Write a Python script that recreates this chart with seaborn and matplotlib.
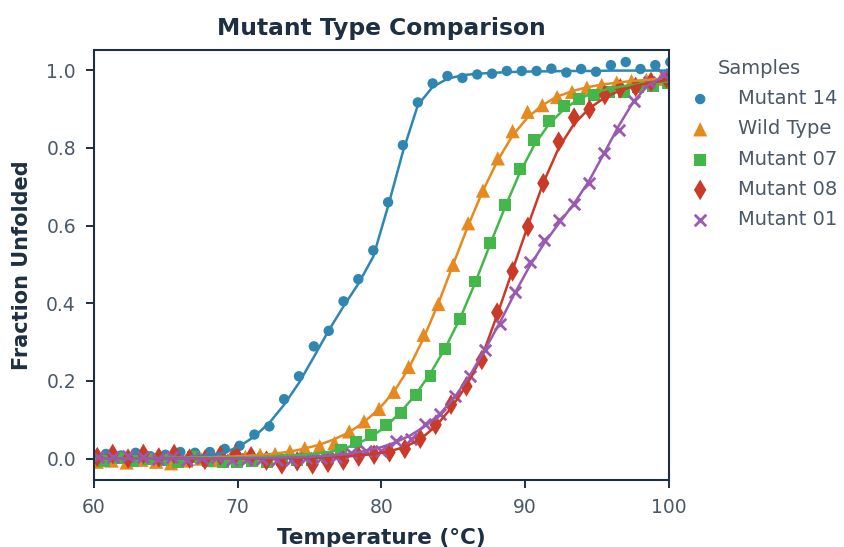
import numpy as np
import pandas as pd
import matplotlib
matplotlib.use("Agg")
import matplotlib.pyplot as plt
import seaborn as sns

# ---- data -----------------------------------------------------------------
samples = ["Mutant 14", "Wild Type", "Mutant 07", "Mutant 08", "Mutant 01"]

temps_m14 = [59.80, 60.83, 61.87, 62.90, 63.93, 64.97, 66.00, 67.03, 68.06, 69.10,
             70.13, 71.16, 72.20, 73.23, 74.26, 75.30, 76.33, 77.36, 78.39, 79.43,
             80.46, 81.49, 82.53, 83.56, 84.59, 85.63, 86.66, 87.69, 88.72, 89.76,
             90.79, 91.82, 92.86, 93.89, 94.92, 95.96, 96.99, 98.02, 99.05, 100.09]
obs_m14 = [0.005, 0.012, 0.008, 0.015, 0.006, 0.010, 0.017, 0.015, 0.017, 0.025,
           0.033, 0.062, 0.083, 0.153, 0.212, 0.289, 0.329, 0.405, 0.462, 0.536,
           0.660, 0.807, 0.917, 0.966, 0.985, 0.980, 0.989, 0.991, 0.998, 0.998,
           0.998, 1.004, 0.994, 1.003, 0.996, 1.013, 1.021, 1.003, 1.013, 1.021]
fit_m14 = [0.000, 0.000, 0.000, 0.001, 0.001, 0.002, 0.003, 0.005, 0.009, 0.016,
           0.032, 0.057, 0.092, 0.139, 0.195, 0.262, 0.330, 0.392, 0.450, 0.520,
           0.650, 0.790, 0.910, 0.957, 0.978, 0.987, 0.991, 0.993, 0.995, 0.996,
           0.997, 0.997, 0.998, 0.998, 0.998, 0.999, 0.999, 0.999, 0.999, 0.999]

temps_wt = [60.20, 61.23, 62.27, 63.30, 64.33, 65.37, 66.40, 67.43, 68.46, 69.50,
            70.53, 71.56, 72.60, 73.63, 74.66, 75.70, 76.73, 77.76, 78.79, 79.83,
            80.86, 81.89, 82.93, 83.96, 84.99, 86.03, 87.06, 88.09, 89.12, 90.16,
            91.19, 92.22, 93.26, 94.29, 95.32, 96.36, 97.39, 98.42, 99.45]
obs_wt = [-0.008, -0.005, -0.010, -0.003, -0.008, -0.012, -0.005, 0.000, -0.004, 0.003,
          0.005, 0.010, 0.012, 0.019, 0.027, 0.032, 0.040, 0.070, 0.096, 0.128,
          0.172, 0.236, 0.319, 0.398, 0.499, 0.606, 0.690, 0.773, 0.843, 0.893,
          0.910, 0.931, 0.944, 0.955, 0.962, 0.968, 0.972, 0.975, 0.978]
fit_wt = [0.000, 0.000, 0.000, 0.001, 0.001, 0.002, 0.002, 0.003, 0.004, 0.005,
          0.007, 0.009, 0.013, 0.018, 0.026, 0.036, 0.050, 0.068, 0.094, 0.128,
          0.172, 0.232, 0.310, 0.400, 0.500, 0.600, 0.690, 0.768, 0.832, 0.878,
          0.910, 0.932, 0.946, 0.956, 0.963, 0.968, 0.972, 0.975, 0.978]

temps_m07 = [59.65, 60.68, 61.72, 62.75, 63.78, 64.82, 65.85, 66.88, 67.91, 68.95,
             69.98, 71.01, 72.05, 73.08, 74.11, 75.15, 76.18, 77.21, 78.24, 79.28,
             80.31, 81.34, 82.38, 83.41, 84.44, 85.48, 86.51, 87.54, 88.57, 89.61,
             90.64, 91.67, 92.71, 93.74, 94.77, 95.81, 96.84, 97.87, 98.90, 99.94]
obs_m07 = [0.000, -0.005, 0.002, -0.006, 0.000, -0.004, -0.008, 0.003, -0.006, -0.010,
           -0.008, -0.005, -0.010, -0.004, -0.003, -0.003, 0.003, 0.021, 0.042, 0.060,
           0.086, 0.117, 0.165, 0.212, 0.283, 0.359, 0.456, 0.556, 0.653, 0.746,
           0.820, 0.870, 0.908, 0.927, 0.936, 0.944, 0.944, 0.957, 0.959, 0.966]
fit_m07 = [0.000, 0.000, 0.000, 0.000, 0.000, 0.001, 0.001, 0.001, 0.002, 0.002,
           0.003, 0.004, 0.005, 0.007, 0.009, 0.012, 0.016, 0.024, 0.037, 0.056,
           0.083, 0.120, 0.165, 0.220, 0.285, 0.362, 0.452, 0.550, 0.645, 0.735,
           0.808, 0.862, 0.900, 0.926, 0.942, 0.952, 0.959, 0.964, 0.968, 0.971]

temps_m08 = [60.23, 61.30, 62.37, 63.44, 64.51, 65.58, 66.65, 67.72, 68.79, 69.86,
             70.93, 72.00, 73.07, 74.14, 75.21, 76.28, 77.35, 78.42, 79.49, 80.56,
             81.63, 82.70, 83.77, 84.84, 85.91, 86.98, 88.05, 89.12, 90.19, 91.26,
             92.33, 93.40, 94.47, 95.54, 96.61, 97.68, 98.75, 99.82]
obs_m08 = [0.004, 0.012, 0.000, 0.012, 0.003, 0.012, 0.000, -0.003, 0.008, 0.012,
           0.006, -0.005, -0.015, -0.007, -0.015, -0.011, -0.005, 0.005, 0.010, 0.016,
           0.025, 0.051, 0.087, 0.139, 0.186, 0.254, 0.376, 0.482, 0.597, 0.709,
           0.816, 0.878, 0.899, 0.936, 0.953, 0.957, 0.970, 0.979]
fit_m08 = [0.000, 0.000, 0.000, 0.000, 0.000, 0.000, 0.000, 0.000, 0.000, 0.000,
           0.000, 0.000, 0.001, 0.001, 0.002, 0.003, 0.005, 0.008, 0.012, 0.019,
           0.030, 0.050, 0.083, 0.130, 0.188, 0.262, 0.370, 0.485, 0.600, 0.710,
           0.800, 0.862, 0.902, 0.930, 0.948, 0.960, 0.968, 0.974]

temps_m01 = [60.28, 61.32, 62.35, 63.39, 64.42, 65.46, 66.49, 67.53, 68.56, 69.60,
             70.63, 71.67, 72.70, 73.74, 74.77, 75.81, 76.84, 77.88, 78.91, 79.95,
             80.98, 82.02, 83.05, 84.09, 85.12, 86.16, 87.19, 88.23, 89.26, 90.30,
             91.33, 92.37, 93.40, 94.44, 95.47, 96.51, 97.54, 98.58, 99.61]
obs_m01 = [0.005, 0.003, 0.006, 0.004, -0.002, 0.004, -0.003, 0.002, 0.003, -0.004,
           -0.002, 0.000, -0.004, -0.003, 0.002, 0.002, 0.004, 0.015, 0.019, 0.019,
           0.045, 0.051, 0.090, 0.115, 0.162, 0.212, 0.280, 0.347, 0.428, 0.507,
           0.563, 0.614, 0.655, 0.709, 0.786, 0.846, 0.920, 0.970, 0.991]
fit_m01 = [0.000, 0.000, 0.000, 0.000, 0.000, 0.000, 0.000, 0.000, 0.000, 0.000,
           0.001, 0.001, 0.002, 0.003, 0.004, 0.006, 0.009, 0.013, 0.020, 0.029,
           0.042, 0.060, 0.084, 0.116, 0.160, 0.215, 0.280, 0.350, 0.425, 0.495,
           0.555, 0.607, 0.657, 0.715, 0.785, 0.857, 0.920, 0.962, 0.983]

x_ticks = [60, 70, 80, 90, 100]
y_ticks = [0.0, 0.2, 0.4, 0.6, 0.8, 1.0]

# ---- styling ----------------------------------------------------------------
colors = {"Mutant 14": "#2f86b1", "Wild Type": "#e68a1f", "Mutant 07": "#44b74b",
          "Mutant 08": "#c93a27", "Mutant 01": "#9b59b0"}
markers = {"Mutant 14": "o", "Wild Type": "^", "Mutant 07": "s",
           "Mutant 08": "d", "Mutant 01": "x"}
sizes = {"Mutant 14": 56, "Wild Type": 105, "Mutant 07": 74,
         "Mutant 08": 110, "Mutant 01": 68}

series = {
    "Mutant 14": (temps_m14, obs_m14, fit_m14),
    "Wild Type": (temps_wt, obs_wt, fit_wt),
    "Mutant 07": (temps_m07, obs_m07, fit_m07),
    "Mutant 08": (temps_m08, obs_m08, fit_m08),
    "Mutant 01": (temps_m01, obs_m01, fit_m01),
}

frames = []
for name in samples:
    t, obs, fit = series[name]
    frames.append(pd.DataFrame({"temp": t, "obs": obs, "fit": fit, "sample": name}))
df = pd.concat(frames, ignore_index=True)

sns.set_theme(style="white")
plt.rcParams["font.family"] = ["DejaVu Sans"]
ink = "#1d2f42"
soft = "#4a5868"

fig = plt.figure(figsize=(8.45, 5.47), dpi=100)
ax = fig.add_axes([0.1112, 0.1225, 0.6805, 0.7861])

# fitted curves first, observed points on top
sns.lineplot(data=df, x="temp", y="fit", hue="sample", palette=colors,
             hue_order=samples, linewidth=1.8, legend=False, ax=ax, sort=True)

for name in samples:
    sub = df[df["sample"] == name]
    kw = dict(linewidth=2.0) if markers[name] == "x" else dict(linewidth=0, edgecolor="none")
    sns.scatterplot(data=sub, x="temp", y="obs", color=colors[name],
                    marker=markers[name], s=sizes[name], label=name, ax=ax, **kw)

ax.set_xlim(60, 100)
ax.set_ylim(-0.055, 1.052)
ax.set_xticks(x_ticks)
ax.set_yticks(y_ticks)
ax.set_yticklabels([f"{v:.1f}" for v in y_ticks])

for sp in ax.spines.values():
    sp.set_color(ink)
    sp.set_linewidth(1.5)
ax.tick_params(axis="both", which="major", direction="out", length=6, width=1.4,
               color=ink, labelsize=13.5, labelcolor=soft, pad=7,
               bottom=True, left=True)

ax.set_xlabel("Temperature (°C)", fontsize=15.5, fontweight="bold", color=ink, labelpad=8)
ax.set_ylabel("Fraction Unfolded", fontsize=15, fontweight="bold", color=ink, labelpad=10)
ax.set_title("Mutant Type Comparison", fontsize=16.8, fontweight="bold", color=ink, pad=11)

handles, labels = ax.get_legend_handles_labels()
leg = ax.legend(handles, labels, title="Samples", loc="upper left",
                bbox_to_anchor=(0.99, 1.02), frameon=False, fontsize=14,
                title_fontsize=14, labelspacing=0.58, handletextpad=0.95,
                labelcolor=soft)
leg.get_title().set_color(soft)

fig.savefig("out.png", dpi=100)
